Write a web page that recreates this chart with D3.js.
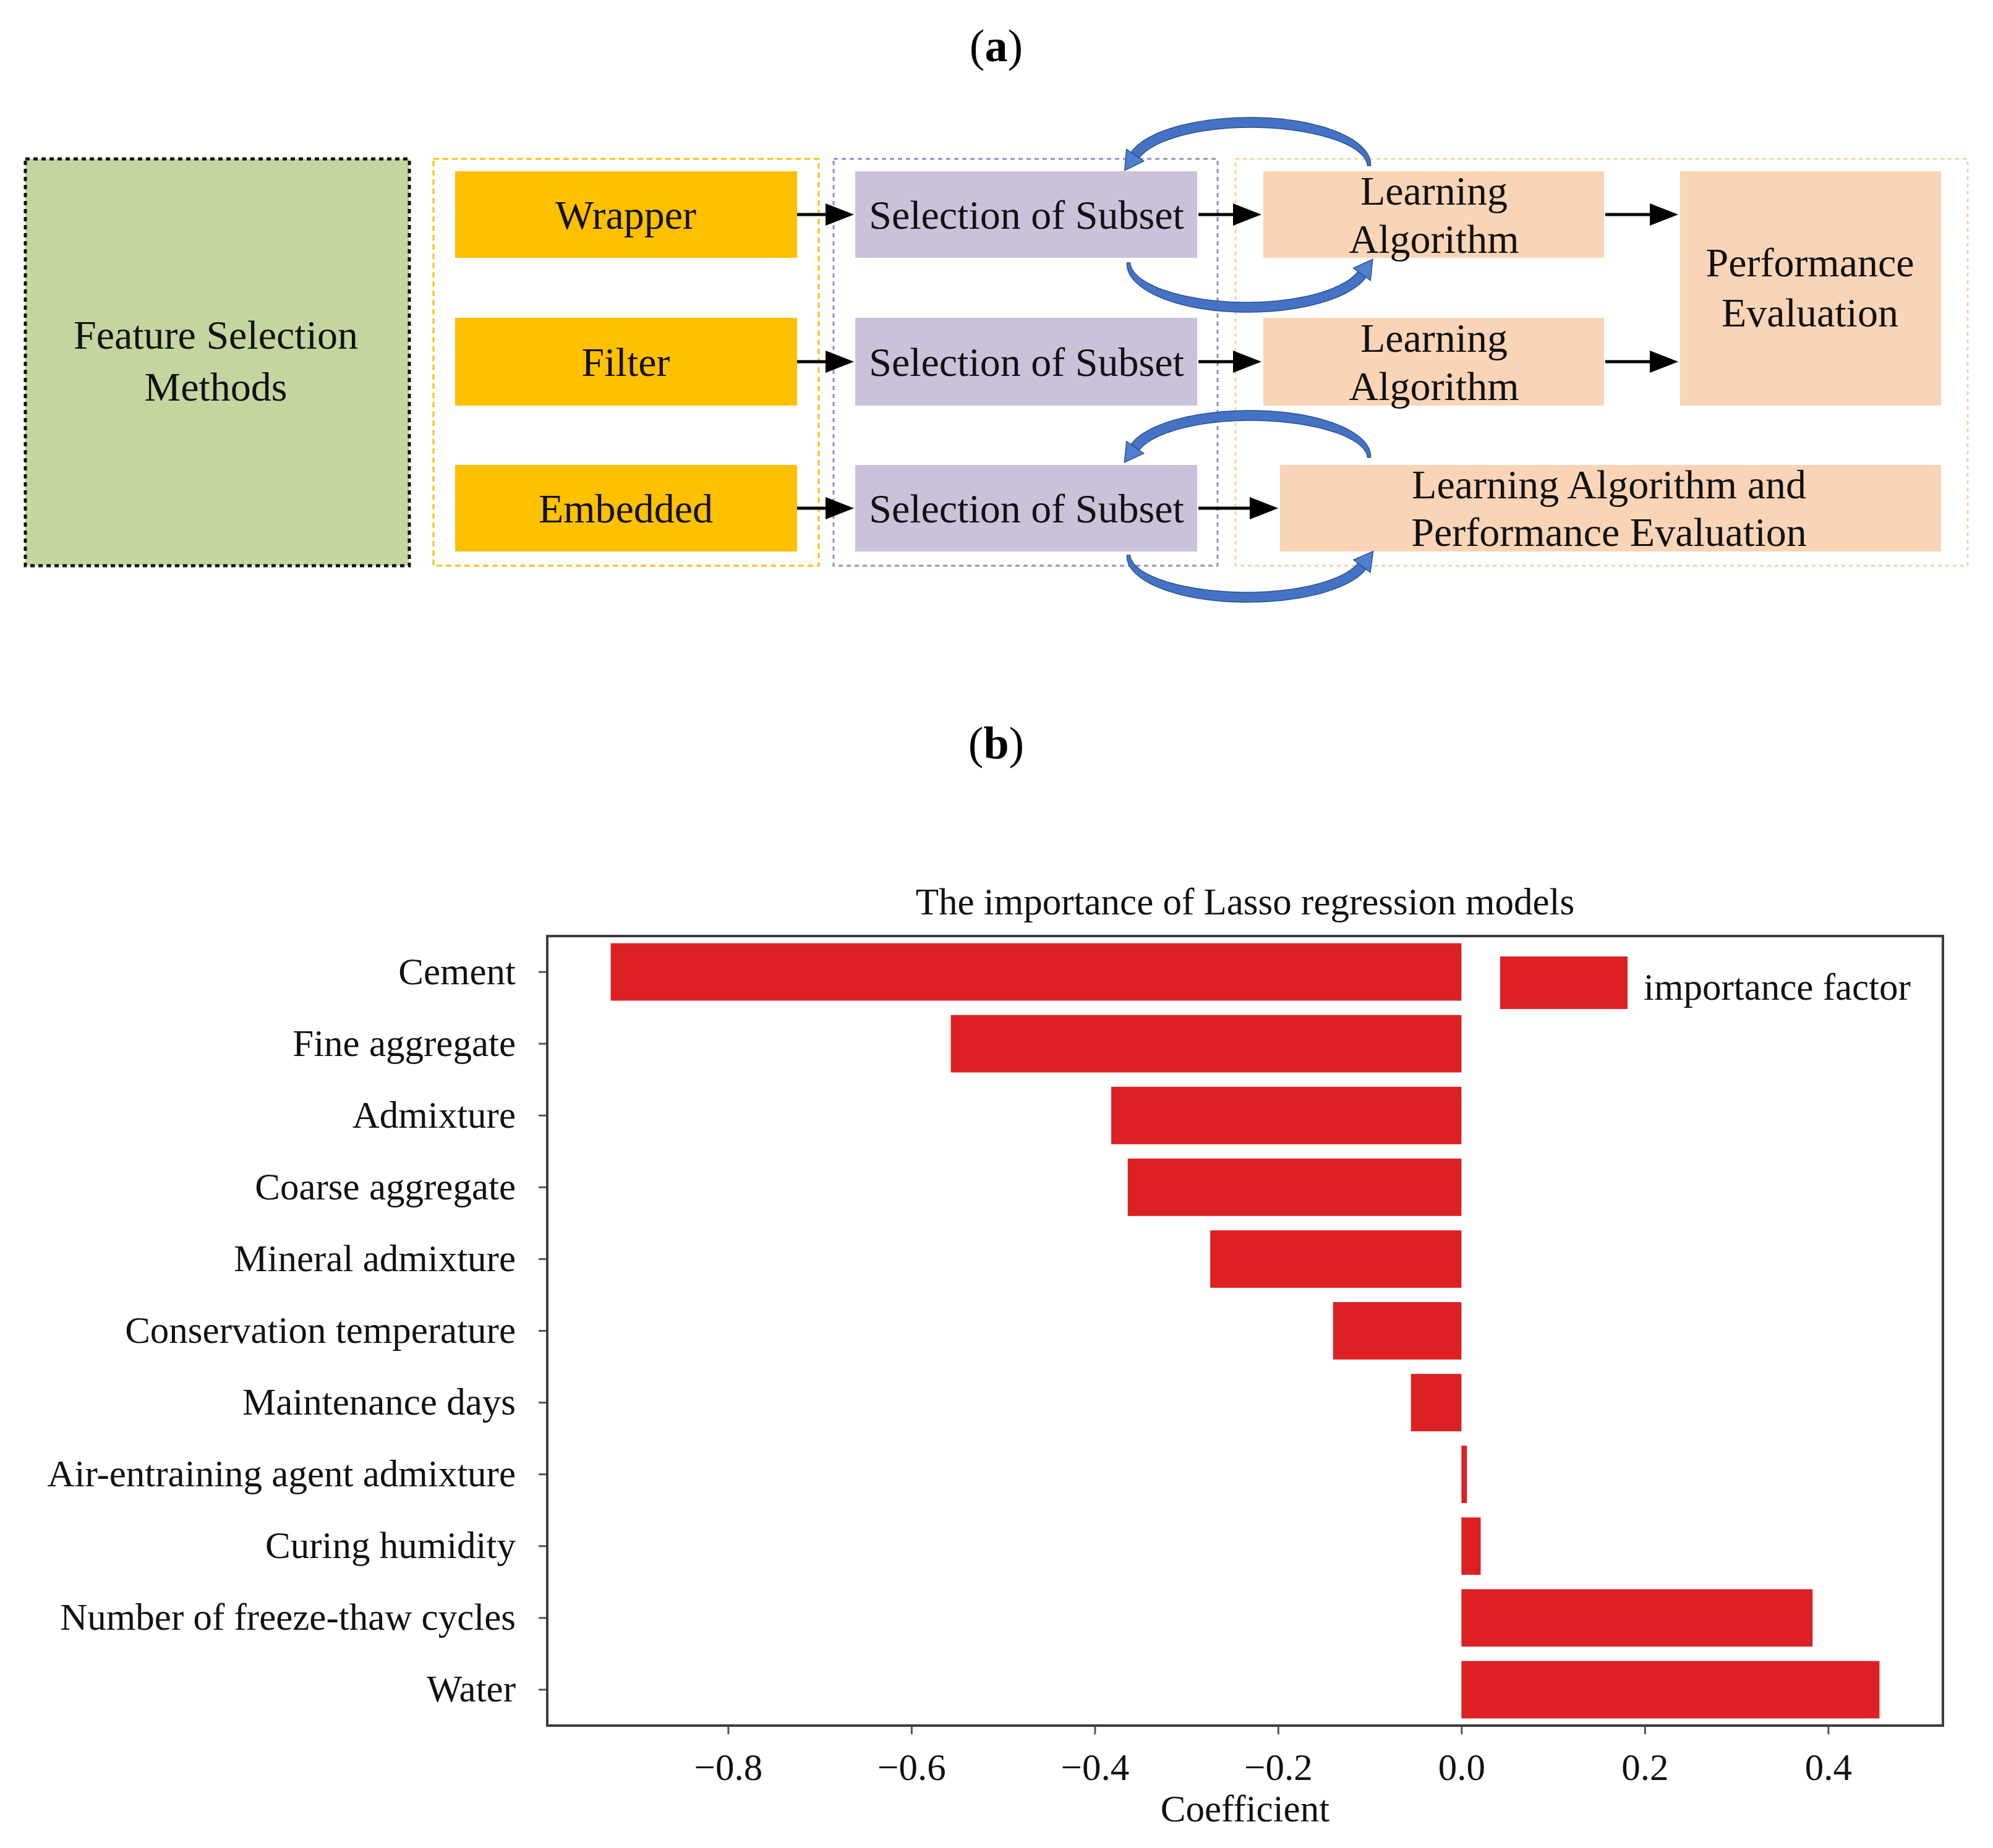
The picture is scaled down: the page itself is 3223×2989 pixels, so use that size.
<!DOCTYPE html>
<html>
<head>
<meta charset="utf-8">
<script src="https://cdn.jsdelivr.net/npm/d3@7"></script>
<style>
  html, body { margin: 0; padding: 0; background: #ffffff; }
  svg { display: block; }
</style>
</head>
<body>
<script>
// ---------------- DATA ----------------
const categories = [
  "Cement", "Fine aggregate", "Admixture", "Coarse aggregate", "Mineral admixture",
  "Conservation temperature", "Maintenance days", "Air-entraining agent admixture",
  "Curing humidity", "Number of freeze-thaw cycles", "Water"
];
const coefficients = [-0.928, -0.557, -0.382, -0.364, -0.274, -0.140, -0.055, 0.006, 0.021, 0.383, 0.456];
const xTickValues = [-0.8, -0.6, -0.4, -0.2, 0.0, 0.2, 0.4];
const chartTitle = "The importance of Lasso regression models";
const xAxisLabel = "Coefficient";
const legendLabel = "importance factor";

// Diagram (a) texts
const methodLabels = ["Wrapper", "Filter", "Embedded"];
const subsetLabel = "Selection of Subset";
const learningLines = ["Learning", "Algorithm"];
const perfLines = ["Performance", "Evaluation"];
const combinedLines = ["Learning Algorithm and", "Performance Evaluation"];
const rootLines = ["Feature Selection", "Methods"];

// ---------------- SETUP ----------------
const W = 3223, H = 2989;
const FONT = "'Times New Roman', 'Liberation Serif', serif";
const svg = d3.select("body").append("svg")
  .attr("width", W).attr("height", H)
  .attr("viewBox", `0 0 ${W} ${H}`)
  .style("font-family", FONT);
svg.append("rect").attr("width", W).attr("height", H).attr("fill", "#fff");

// ---------------- PANEL LABELS ----------------
function panelLabel(letter, cx, baseline) {
  const t = svg.append("text").attr("x", cx).attr("y", baseline)
    .attr("text-anchor", "middle").attr("font-size", 74).attr("fill", "#000");
  t.append("tspan").text("(");
  t.append("tspan").attr("font-weight", "bold").text(letter);
  t.append("tspan").text(")");
}
panelLabel("a", 1611, 99);
panelLabel("b", 1611, 1227);

// ---------------- DIAGRAM (a) ----------------
const dg = svg.append("g");
const rowsY = [[277, 417], [514, 656], [752, 892]];
const txtCol = "#111";
const dFont = 66;

function dashedBox(x0, y0, x1, y1, stroke, dash, sw, fill) {
  dg.append("rect").attr("x", x0).attr("y", y0).attr("width", x1 - x0).attr("height", y1 - y0)
    .attr("fill", fill || "none").attr("stroke", stroke).attr("stroke-width", sw)
    .attr("stroke-dasharray", dash);
}
function box(x0, y0, x1, y1, fill) {
  dg.append("rect").attr("x", x0).attr("y", y0).attr("width", x1 - x0).attr("height", y1 - y0)
    .attr("fill", fill);
}
function lines(cx, cy, arr, lh) {
  const n = arr.length;
  arr.forEach((s, i) => {
    dg.append("text").attr("x", cx).attr("y", cy + (i - (n - 1) / 2) * lh)
      .attr("dy", "0.35em").attr("text-anchor", "middle")
      .attr("font-size", dFont).attr("fill", txtCol).text(s);
  });
}
function arrow(x0, x1, y) {
  const hl = 46, hh = 18;
  dg.append("line").attr("x1", x0).attr("x2", x1 - hl + 2).attr("y1", y).attr("y2", y)
    .attr("stroke", "#000").attr("stroke-width", 5);
  dg.append("path").attr("d", `M${x1},${y} L${x1 - hl},${y - hh} L${x1 - hl},${y + hh} Z`).attr("fill", "#000");
}

// group containers
dashedBox(41, 257, 662, 915, "#111", "7 6", 5, "#c4d69f");
lines(349, 583, rootLines, 84);
dashedBox(701, 257, 1324, 915, "#ffc000", "9 6", 3);
dashedBox(1348, 257, 1969, 915, "#9a8cc0", "7 6", 3);
dashedBox(1998, 257, 3182, 915, "#f7cfae", "6 6", 3);

rowsY.forEach((r, i) => {
  box(736, r[0], 1289, r[1], "#ffc000");
  lines(1012, (r[0] + r[1]) / 2, [methodLabels[i]], 78);
  box(1383, r[0], 1936, r[1], "#ccc1da");
  lines(1660, (r[0] + r[1]) / 2, [subsetLabel], 78);
  arrow(1289, 1381, (r[0] + r[1]) / 2);
});
box(2043, rowsY[0][0], 2594, rowsY[0][1], "#f9d4b6");
lines(2319, 347, learningLines, 78);
box(2043, rowsY[1][0], 2594, rowsY[1][1], "#f9d4b6");
lines(2319, 585, learningLines, 78);
box(2717, 277, 3139, 656, "#f9d4b6");
lines(2927, 464, perfLines, 81);
box(2070, rowsY[2][0], 3139, rowsY[2][1], "#f9d4b6");
lines(2602, 821, combinedLines, 77);

arrow(1938, 2040, 347);
arrow(1938, 2040, 585);
arrow(1938, 2067, 822);
arrow(2596, 2714, 347);
arrow(2596, 2714, 585);

// curved blue arrows
function curvedArrow(cx, cy, rx, ry, a0, a1, sgn) {
  const N = 60;
  const rad = d => d * Math.PI / 180;
  const P = a => [cx + rx * Math.cos(a), cy + sgn * ry * Math.sin(a)];
  const T = a => {
    const da = Math.sign(a1 - a0);
    const v = [-rx * Math.sin(a) * da, sgn * ry * Math.cos(a) * da];
    const l = Math.hypot(v[0], v[1]);
    return [v[0] / l, v[1] / l];
  };
  const left = [], right = [];
  for (let i = 0; i <= N; i++) {
    const t = i / N;
    const a = rad(a0 + (a1 - a0) * t);
    const p = P(a), d = T(a), n = [-d[1], d[0]];
    const w = 2.5 + 5.5 * Math.sin(Math.PI * Math.min(t, 0.5)) ;
    left.push([p[0] + n[0] * w, p[1] + n[1] * w]);
    right.push([p[0] - n[0] * w, p[1] - n[1] * w]);
  }
  const body = left.concat(right.reverse());
  dg.append("path").attr("d", "M" + body.map(p => p.join(",")).join("L") + "Z")
    .attr("fill", "#4472c4").attr("stroke", "#2f528f").attr("stroke-width", 1.5);
  const ae = rad(a1), pe = P(ae), de = T(ae), ne = [-de[1], de[0]];
  const hw = 17, hl = 30;
  const head = [
    [pe[0] + ne[0] * hw, pe[1] + ne[1] * hw],
    [pe[0] + de[0] * hl, pe[1] + de[1] * hl],
    [pe[0] - ne[0] * hw, pe[1] - ne[1] * hw]
  ];
  dg.append("path").attr("d", "M" + head.map(p => p.join(",")).join("L") + "Z")
    .attr("fill", "#4f7fd0").attr("stroke", "#2f528f").attr("stroke-width", 1.5);
}
curvedArrow(2022, 268, 192, 70, 0, 166, -1);
curvedArrow(2017, 425, 192, 72, 180, 15, 1);
curvedArrow(2022, 740, 192, 68, 0, 166, -1);
curvedArrow(2017, 898, 192, 68, 180, 15, 1);

// ---------------- CHART (b) ----------------
const plot = { left: 885, right: 3142, top: 1514, bottom: 2791 };
const cg = svg.append("g");
const fs = 61;

const dmin = Math.min(0, d3.min(coefficients)), dmax = Math.max(0, d3.max(coefficients));
const pad = 0.05 * (dmax - dmin);
const x = d3.scaleLinear().domain([dmin - pad, dmax + pad]).range([plot.left, plot.right]);
const y = d3.scaleBand().domain(categories).range([plot.top, plot.bottom])
  .paddingInner(0.2).paddingOuter(0.1);

const data = categories.map((c, i) => ({ c, v: coefficients[i] }));
cg.selectAll("rect.bar").data(data).enter().append("rect").attr("class", "bar")
  .attr("x", d => x(Math.min(0, d.v)))
  .attr("width", d => Math.abs(x(d.v) - x(0)))
  .attr("y", d => y(d.c))
  .attr("height", y.bandwidth())
  .attr("fill", "#dd2023");

// axes
const xAxis = cg.append("g").attr("transform", `translate(0,${plot.bottom})`)
  .call(d3.axisBottom(x).tickValues(xTickValues).tickFormat(d3.format(".1f")).tickSize(14).tickPadding(31));
const yAxis = cg.append("g").attr("transform", `translate(${plot.left},0)`)
  .call(d3.axisLeft(y).tickSize(14).tickPadding(37));
[xAxis, yAxis].forEach(a => {
  a.select(".domain").remove();
  a.selectAll(".tick line").attr("stroke", "#555").attr("stroke-width", 3);
  a.selectAll(".tick text").attr("font-size", fs).attr("font-family", FONT).attr("fill", "#111");
});

// frame
cg.append("rect").attr("x", plot.left).attr("y", plot.top)
  .attr("width", plot.right - plot.left).attr("height", plot.bottom - plot.top)
  .attr("fill", "none").attr("stroke", "#3c3c3c").attr("stroke-width", 4);

// title & axis label
cg.append("text").attr("x", (plot.left + plot.right) / 2).attr("y", 1479)
  .attr("text-anchor", "middle").attr("font-size", fs).attr("fill", "#111").text(chartTitle);
cg.append("text").attr("x", (plot.left + plot.right) / 2).attr("y", 2946)
  .attr("text-anchor", "middle").attr("font-size", fs).attr("fill", "#111").text(xAxisLabel);

// legend
const lg = cg.append("g");
lg.append("rect").attr("x", 2426).attr("y", 1547).attr("width", 206).attr("height", 85).attr("fill", "#dd2023");
lg.append("text").attr("x", 2658).attr("y", 1617).attr("font-size", fs).attr("fill", "#111").text(legendLabel);
</script>
</body>
</html>
